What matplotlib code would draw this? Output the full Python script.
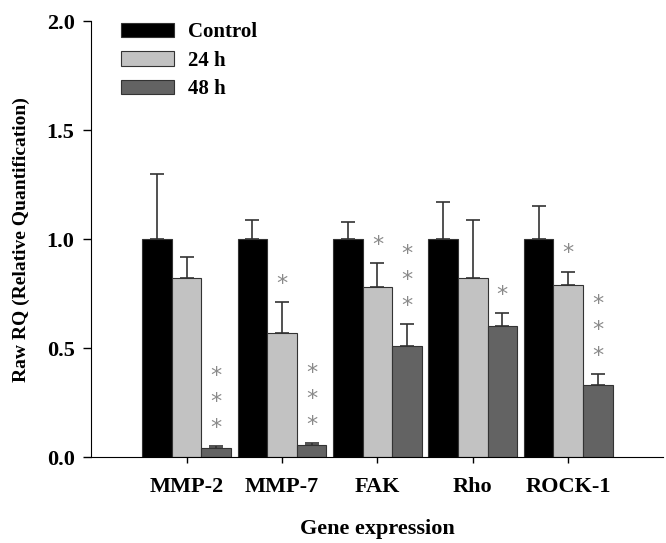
import numpy as np
import matplotlib.pyplot as plt

genes = ['MMP-2', 'MMP-7', 'FAK', 'Rho', 'ROCK-1']
series = ['Control', '24 h', '48 h']

control = [1.0, 1.0, 1.0, 1.0, 1.0]
control_err = [0.30, 0.09, 0.08, 0.17, 0.15]
h24 = [0.82, 0.57, 0.78, 0.82, 0.79]
h24_err = [0.10, 0.14, 0.11, 0.27, 0.06]
h48 = [0.04, 0.055, 0.51, 0.60, 0.33]
h48_err = [0.01, 0.01, 0.10, 0.06, 0.05]

# number of significance stars per bar
stars_24 = [0, 1, 1, 0, 1]
stars_48 = [3, 3, 3, 1, 3]

plt.rcParams['font.family'] = ['Liberation Serif', 'DejaVu Serif']
plt.rcParams['font.weight'] = 'bold'
plt.rcParams['axes.labelweight'] = 'bold'

fig = plt.figure(figsize=(6.66, 5.43), dpi=100)
ax = fig.add_axes([0.137, 0.158, 0.858, 0.803])

x = np.arange(len(genes))
w = 0.31
colors = ['#000000', '#c2c2c2', '#636363']
vals = [control, h24, h48]
errs = [control_err, h24_err, h48_err]

for i in range(3):
    pos = x + (i - 1) * w
    ax.bar(pos, vals[i], w, color=colors[i], edgecolor='#333333', linewidth=0.8,
           label=series[i], zorder=2)
    ax.errorbar(pos, vals[i], yerr=[np.zeros(len(genes)), errs[i]], fmt='none',
                ecolor='#333333', elinewidth=1.2, capsize=5, capthick=1.2, zorder=1)

def put_stars(pos, top, n):
    for k in range(n):
        ax.text(pos, top + 0.085 + k * 0.118, '*', ha='center', va='center',
                color='#8a8a8a', fontsize=16, fontweight='normal',
                family='DejaVu Sans')

for j in range(len(genes)):
    put_stars(x[j], h24[j] + h24_err[j], stars_24[j])
    put_stars(x[j] + w, h48[j] + h48_err[j], stars_48[j])

ax.set_ylim(0, 2.0)
ax.set_xlim(-1.0, 4.99)
ax.set_yticks([0, 0.5, 1.0, 1.5, 2.0])
ax.set_yticklabels(['0.0', '0.5', '1.0', '1.5', '2.0'], fontsize=16)
ax.set_xticks(x)
ax.set_xticklabels(genes, fontsize=16)
ax.tick_params(axis='y', direction='out', length=6, width=1, pad=6)
ax.tick_params(axis='x', direction='out', length=4, width=1, pad=10)
ax.spines['top'].set_visible(False)
ax.spines['right'].set_visible(False)

ax.set_ylabel('Raw RQ (Relative Quantification)', fontsize=14, labelpad=12)
ax.set_xlabel('Gene expression', fontsize=16, labelpad=16)

ax.legend(loc='upper left', bbox_to_anchor=(0.02, 1.04), frameon=False,
          fontsize=15, handlelength=2.5, handleheight=0.7, labelspacing=0.4,
          handletextpad=0.7)

fig.savefig('out.png', dpi=100)
